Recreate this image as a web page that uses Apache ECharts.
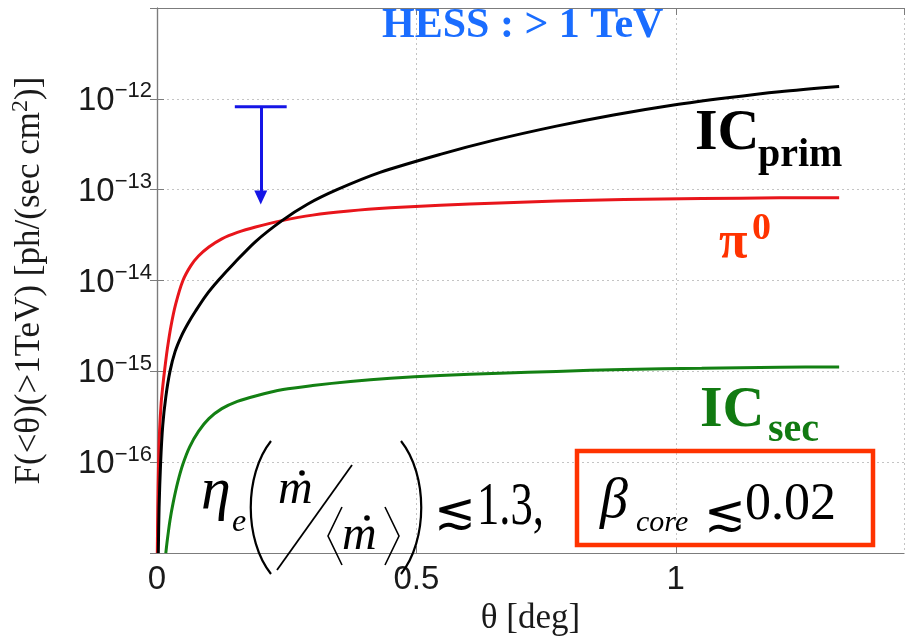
<!DOCTYPE html>
<html><head><meta charset="utf-8">
<script src="https://cdn.jsdelivr.net/npm/echarts@6/dist/echarts.min.js"></script>
<style>html,body{margin:0;padding:0;background:#fff}#c{width:912px;height:641px}</style>
</head><body><div id="c"></div><script>
// ---- data ----
const thetaPrim = [0.0025, 0.004, 0.007, 0.011, 0.017, 0.025, 0.035, 0.047, 0.06, 0.075, 0.095, 0.118, 0.15, 0.19, 0.241, 0.29, 0.347, 0.43, 0.546, 0.65, 0.77, 0.88, 0.996, 1.1, 1.2, 1.315];
const fluxPrim  = [1e-17, 3.16e-17, 1e-16, 2.51e-16, 5.25e-16, 1e-15, 1.66e-15, 2.45e-15, 3.39e-15, 4.68e-15, 6.92e-15, 1e-14, 1.58e-14, 2.69e-14, 4.57e-14, 6.92e-14, 1e-13, 1.55e-13, 2.45e-13, 3.51e-13, 5.01e-13, 6.65e-13, 8.57e-13, 1.03e-12, 1.2e-12, 1.37e-12];
const thetaPi = [0.0006, 0.0015, 0.003, 0.005, 0.008, 0.011, 0.015, 0.02, 0.027, 0.036, 0.05, 0.065, 0.08, 0.1, 0.125, 0.155, 0.19, 0.241, 0.3, 0.37, 0.45, 0.546, 0.66, 0.77, 0.9, 1.05, 1.2, 1.315];
const fluxPi  = [1e-17, 3.16e-17, 1e-16, 2.24e-16, 4.47e-16, 6.76e-16, 1.07e-15, 1.78e-15, 3.16e-15, 5.5e-15, 1e-14, 1.45e-14, 1.86e-14, 2.34e-14, 2.88e-14, 3.39e-14, 3.89e-14, 4.57e-14, 5.25e-14, 5.82e-14, 6.31e-14, 6.76e-14, 7.16e-14, 7.5e-14, 7.8e-14, 8.0e-14, 8.13e-14, 8.18e-14];
const thetaSec = [0.017, 0.02, 0.025, 0.031, 0.04, 0.05, 0.063, 0.08, 0.1, 0.125, 0.155, 0.19, 0.243, 0.3, 0.373, 0.45, 0.546, 0.66, 0.77, 0.9, 1.05, 1.2, 1.315];
const fluxSec  = [1e-17, 1.41e-17, 2.29e-17, 3.55e-17, 6.03e-17, 9.55e-17, 1.48e-16, 2.19e-16, 3.02e-16, 3.89e-16, 4.68e-16, 5.37e-16, 6.31e-16, 7.0e-16, 7.76e-16, 8.41e-16, 9.02e-16, 9.55e-16, 1e-15, 1.05e-15, 1.08e-15, 1.11e-15, 1.12e-15];
const ulBarTheta = [0.15, 0.25];
const ulTheta = 0.2;
const ulFlux = 8.2e-13;
const ulArrowEnd = 8.2e-14;
const xTickValues = [0, 0.5, 1];
const xTickLabels = ['0', '0.5', '1'];
const yLabelExponents = [-16, -15, -14, -13, -12];

const SERIF = "'Liberation Serif','Times New Roman',serif";
const SANS = "'Liberation Sans',Arial,sans-serif";
const zip = (a, b) => a.map((v, i) => [v, b[i]]);

const chart = echarts.init(document.getElementById('c'), null, {renderer: 'canvas'});

function T(text, x, y, size, color, extra) {
  return {type: 'text', x: x, y: y, z: 100,
    style: Object.assign({text: text, fill: color, fontSize: size, fontFamily: SERIF,
      fontWeight: 'bold', align: 'left', verticalAlign: 'middle'}, extra || {})};
}
function B(x1, y1, x2, y2, c1x, c1y, c2x, c2y, w) {
  return {type: 'bezierCurve', z: 100, shape: {x1, y1, x2, y2, cpx1: c1x, cpy1: c1y, cpx2: c2x, cpy2: c2y},
    style: {stroke: '#000', lineWidth: w, fill: null}};
}
const green = '#117a11', red = '#ff3300';
const graphics = [
  T('HESS : > 1 TeV', 382, 26, 42, '#1a6dff'),
  T('IC', 695, 134, 58, '#000'),
  T('prim', 758, 156, 40, '#000'),
  T('\u03c0', 719, 244, 52, red),
  T('0', 752, 229, 38, red),
  T('IC', 700, 411, 58, green),
  T('sec', 768, 431, 40, green),
  // left equation
  T('\u03b7', 201, 492, 60, '#000', {fontWeight: 'normal', fontStyle: 'italic'}),
  T('e', 232, 523, 32, '#000', {fontWeight: 'normal', fontStyle: 'italic'}),
  B(271, 441, 271, 574, 244, 475, 244, 540, 2.2),
  B(401, 441, 401, 574, 428, 475, 428, 540, 2.2),
  T('m', 278, 490, 48, '#000', {fontWeight: 'normal', fontStyle: 'italic'}),
  {type: 'circle', z: 100, shape: {cx: 302, cy: 473, r: 2.8}, style: {fill: '#000'}},
  {type: 'line', z: 100, shape: {x1: 277, y1: 570, x2: 352, y2: 465}, style: {stroke: '#000', lineWidth: 1.8}},
  {type: 'polyline', z: 100, shape: {points: [[342, 507], [328, 536], [342, 565]]}, style: {stroke: '#000', lineWidth: 1.6, fill: null}},
  T('m', 342, 536, 48, '#000', {fontWeight: 'normal', fontStyle: 'italic'}),
  {type: 'circle', z: 100, shape: {cx: 367, cy: 518, r: 2.8}, style: {fill: '#000'}},
  {type: 'polyline', z: 100, shape: {points: [[385, 507], [399, 536], [385, 565]]}, style: {stroke: '#000', lineWidth: 1.6, fill: null}},
  T('\u2272', 434, 515, 50, '#000', {fontWeight: 'normal', fontFamily: "'DejaVu Serif',serif"}),
  Object.assign(T('1.3,', 477, 508, 62, '#000', {fontWeight: 'normal'}), {scaleX: 0.72, originX: 0, originY: 0}),
  // box
  {type: 'rect', z: 100, shape: {x: 577, y: 451, width: 296, height: 94}, style: {fill: null, stroke: red, lineWidth: 4.5}},
  T('\u03b2', 600, 502, 56, '#000', {fontWeight: 'normal', fontStyle: 'italic'}),
  T('core', 636, 523, 30, '#000', {fontWeight: 'normal', fontStyle: 'italic'}),
  T('\u2272', 704, 517, 50, '#000', {fontWeight: 'normal', fontFamily: "'DejaVu Serif',serif"}),
  T('0.02', 745, 505, 52, '#000', {fontWeight: 'normal'})
];

const gridLine = {show: true, lineStyle: {color: '#c4c4c4', type: [2, 3], width: 1}};
const axisLn = {show: true, lineStyle: {color: '#7c7c7c', width: 1.2}};
const tick = {show: true, inside: true, length: 7, lineStyle: {color: '#7c7c7c', width: 1}};

const option = {
  backgroundColor: '#fff',
  animation: false,
  grid: {left: 157, right: 8, top: 8, bottom: 77, containLabel: false},
  xAxis: [{
    type: 'value', min: 0, max: 1.44, interval: 0.5, position: 'bottom',
    axisLine: axisLn, axisTick: tick, splitLine: gridLine,
    axisLabel: {margin: 10, fontSize: 33, fontFamily: SANS, color: '#1a1a1a', showMaxLabel: false,
      formatter: v => { const i = xTickValues.findIndex(t => Math.abs(t - v) < 1e-9); return i >= 0 ? xTickLabels[i] : ''; }},
    name: '\u03b8 [deg]', nameLocation: 'middle', nameGap: 40,
    nameTextStyle: {fontSize: 35, fontFamily: SERIF, color: '#1a1a1a'}
  }, {
    type: 'value', min: 0, max: 1.44, interval: 0.5, position: 'top',
    axisLine: axisLn, axisTick: tick, splitLine: {show: false}, axisLabel: {show: false}
  }],
  yAxis: [{
    type: 'log', logBase: 10, min: 1e-17, max: 1e-11, splitNumber: 6,
    axisLine: axisLn, axisTick: tick, splitLine: gridLine, minorTick: {show: false},
    axisLabel: {margin: 5, showMinLabel: false, showMaxLabel: false,
      formatter: v => { const e = Math.round(Math.log10(v)); return yLabelExponents.indexOf(e) >= 0 ? '{b|10}{s|\u2212' + Math.abs(e) + '}' : ''; },
      rich: {
        b: {fontSize: 33, fontFamily: SANS, color: '#1a1a1a', verticalAlign: 'bottom'},
        s: {fontSize: 22, fontFamily: SANS, color: '#1a1a1a', verticalAlign: 'bottom', padding: [0, 0, 15, 0]}
      }},
    name: '{a|F(<\u03b8)(>1TeV) [ph/(sec cm}{s|2}{a|)]}', nameLocation: 'middle', nameRotate: 90, nameGap: 110,
    nameTextStyle: {rich: {
      a: {fontSize: 35, fontFamily: SERIF, color: '#1a1a1a', verticalAlign: 'bottom'},
      s: {fontSize: 24, fontFamily: SERIF, color: '#1a1a1a', verticalAlign: 'bottom', padding: [0, 0, 14, 0]}
    }}
  }, {
    type: 'log', logBase: 10, min: 1e-17, max: 1e-11, splitNumber: 6, position: 'right',
    axisLine: axisLn, axisTick: tick, splitLine: {show: false}, axisLabel: {show: false}, minorTick: {show: false}
  }],
  series: [
    {type: 'line', name: 'ICsec', data: zip(thetaSec, fluxSec), showSymbol: false, smooth: 0.3,
      lineStyle: {color: '#138013', width: 3}, z: 3},
    {type: 'line', name: 'pi0', data: zip(thetaPi, fluxPi), showSymbol: false, smooth: 0.3,
      lineStyle: {color: '#e8151b', width: 3}, z: 4},
    {type: 'line', name: 'ICprim', data: zip(thetaPrim, fluxPrim), showSymbol: false, smooth: 0.3,
      lineStyle: {color: '#000', width: 3}, z: 5},
    {type: 'line', name: 'UL', data: ulBarTheta.map(t => [t, ulFlux]), showSymbol: false,
      lineStyle: {color: '#1515e6', width: 3}, z: 6,
      markLine: {silent: true, symbol: ['none', 'triangle'], symbolSize: [13, 14], label: {show: false},
        lineStyle: {color: '#1515e6', width: 3, type: 'solid'},
        data: [[{coord: [ulTheta, ulFlux]}, {coord: [ulTheta, ulArrowEnd]}]]}}
  ],
  graphic: graphics
};
chart.setOption(option);
</script></body></html>
